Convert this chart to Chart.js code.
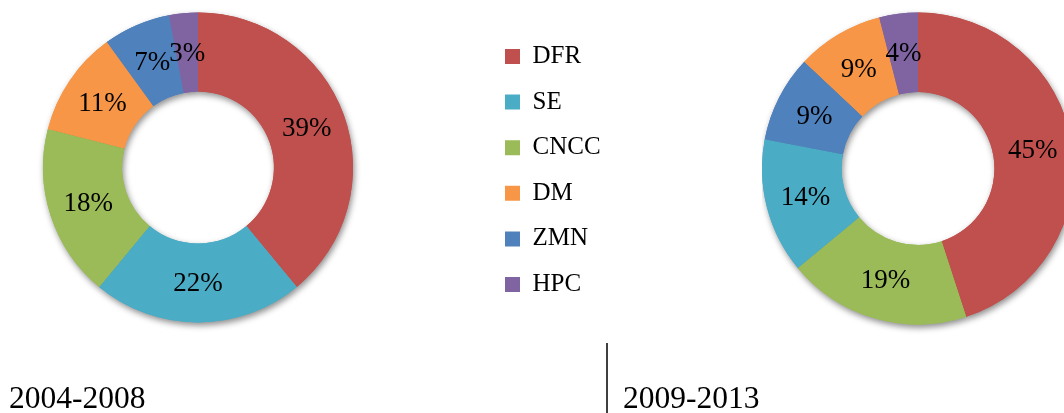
<!DOCTYPE html>
<html>
<head>
<meta charset="utf-8">
<script src="https://cdn.jsdelivr.net/npm/chart.js@4/dist/chart.umd.min.js"></script>
<style>
html,body{margin:0;padding:0;background:#fff;width:1064px;height:413px;overflow:hidden;position:relative;}
canvas{position:absolute;display:block;}
#bg{left:0;top:0;}
#c1{left:0;top:0;}
#c2{left:762px;top:0;}
</style>
</head>
<body>
<canvas id="bg" width="1064" height="413"></canvas>
<canvas id="c1" width="396" height="335"></canvas>
<canvas id="c2" width="312" height="337"></canvas>
<script>
// ---- data ----
const categories = ['DFR', 'SE', 'CNCC', 'DM', 'ZMN', 'HPC'];
const period1Labels = ['DFR', 'SE', 'CNCC', 'DM', 'ZMN', 'HPC'];
const period1Values = [39, 22, 18, 11, 7, 3];
const period2Labels = ['DFR', 'CNCC', 'SE', 'ZMN', 'DM', 'HPC'];
const period2Values = [45, 19, 14, 9, 9, 4];
const periodTitles = ['2004-2008', '2009-2013'];

// ---- styles ----
const palette = {
  DFR: '#C0504D', SE: '#4BACC6', CNCC: '#9BBB59',
  DM: '#F79646', ZMN: '#4F81BD', HPC: '#8064A2'
};

const shadowPass = {
  id: 'shadowPass',
  beforeDatasetsDraw(chart) {
    const ctx = chart.ctx;
    ctx.save();
    ctx.shadowColor = 'rgba(0,0,0,0.45)';
    ctx.shadowBlur = 6;
    ctx.shadowOffsetX = 1.5;
    ctx.shadowOffsetY = 3;
    chart.getDatasetMeta(0).data.forEach(a => a.draw(ctx));
    ctx.restore();
  }
};

const sliceLabels = {
  id: 'sliceLabels',
  afterDatasetsDraw(chart) {
    const ctx = chart.ctx;
    const meta = chart.getDatasetMeta(0);
    const vals = chart.data.datasets[0].data;
    const total = vals.reduce((a, b) => a + b, 0);
    ctx.save();
    ctx.font = '27px "Liberation Serif"';
    ctx.fillStyle = '#000';
    ctx.textAlign = 'center';
    ctx.textBaseline = 'middle';
    meta.data.forEach((arc, i) => {
      const p = arc.tooltipPosition();
      ctx.fillText(Math.round(vals[i] / total * 100) + '%', p.x, p.y + 1);
    });
    ctx.restore();
  }
};

function donut(id, labels, values, radius, cutout) {
  return new Chart(document.getElementById(id), {
    type: 'doughnut',
    data: {
      labels: labels,
      datasets: [{
        data: values,
        backgroundColor: labels.map(l => palette[l]),
        borderWidth: 0
      }]
    },
    options: {
      responsive: false,
      animation: false,
      radius: radius,
      cutout: cutout,
      layout: { padding: 0 },
      plugins: { legend: { display: false }, tooltip: { enabled: false }, title: { display: false } }
    },
    plugins: [shadowPass, sliceLabels]
  });
}

const captions = {
  id: 'captions',
  afterDraw(chart) {
    const ctx = chart.ctx;
    ctx.save();
    ctx.font = '31.5px "Liberation Serif"';
    ctx.fillStyle = '#000';
    ctx.textAlign = 'left';
    ctx.textBaseline = 'alphabetic';
    ctx.fillText(periodTitles[0], 9, 408);
    ctx.fillText(periodTitles[1], 623, 408);
    ctx.strokeStyle = '#000';
    ctx.lineWidth = 1.5;
    ctx.beginPath();
    ctx.moveTo(607, 343);
    ctx.lineTo(607, 413);
    ctx.stroke();
    ctx.restore();
  }
};

// legend / background chart
new Chart(document.getElementById('bg'), {
  type: 'doughnut',
  data: {
    labels: categories,
    datasets: [{ data: period1Values, backgroundColor: 'rgba(0,0,0,0)', borderWidth: 0 }]
  },
  options: {
    responsive: false,
    animation: false,
    layout: { padding: { left: 484.4, top: 23.4, right: 0, bottom: 0 } },
    plugins: {
      tooltip: { enabled: false },
      legend: {
        position: 'left',
        align: 'start',
        labels: {
          boxWidth: 15,
          boxHeight: 15,
          padding: 20.6,
          color: '#000',
          font: { family: 'Liberation Serif', size: 25 },
          generateLabels: () => categories.map((c, i) => ({
            text: c, fillStyle: palette[c], strokeStyle: palette[c],
            lineWidth: 0, hidden: false, index: i, fontColor: '#000'
          }))
        },
        onClick: () => {}
      }
    }
  },
  plugins: [captions]
});

donut('c1', period1Labels, period1Values, 155, '49%');
donut('c2', period2Labels, period2Values, 156, '49%');
</script>
</body>
</html>
